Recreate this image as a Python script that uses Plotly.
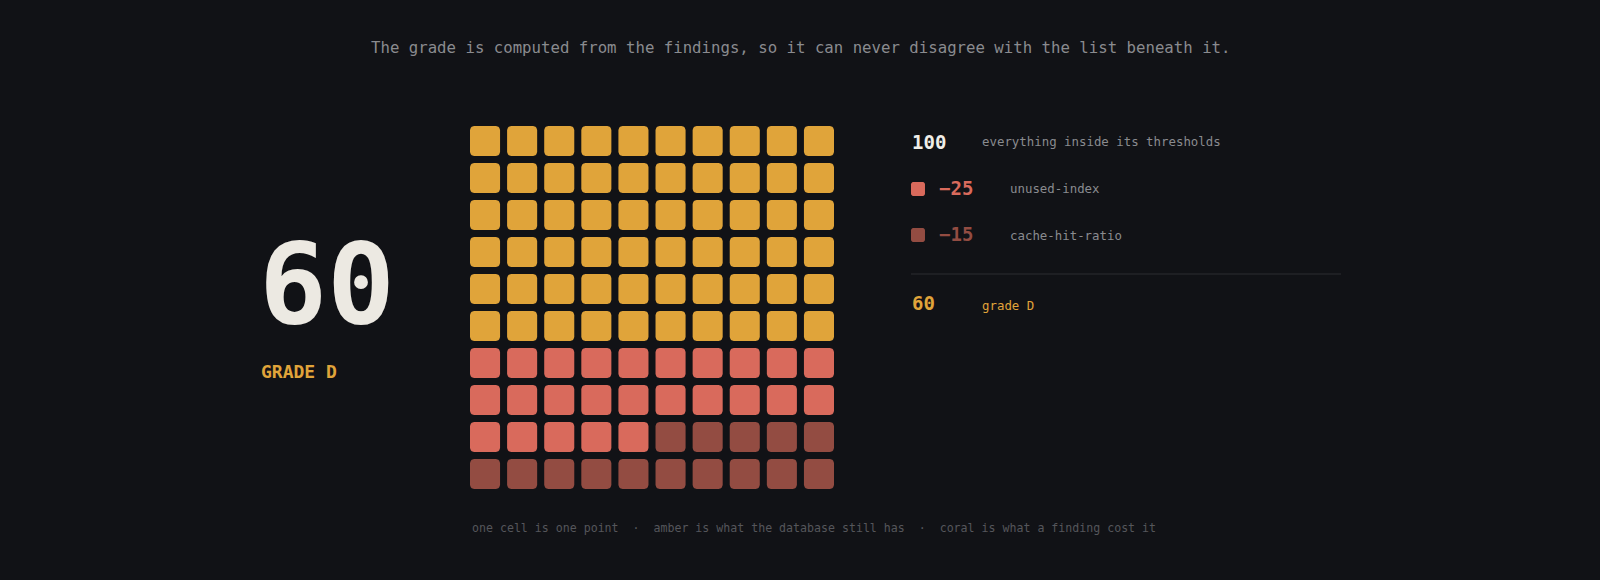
import numpy as np
import plotly.graph_objects as go

# ---- data ----
base_score = 100
base_label = "everything inside its thresholds"
findings = ["unused-index", "cache-hit-ratio"]
penalties = [25, 15]
grade = "D"
score = base_score - sum(penalties)
grid_cols = 10
grid_rows = 10

title_text = "The grade is computed from the findings, so it can never disagree with the list beneath it."
footer_text = "one cell is one point  \u00b7  amber is what the database still has  \u00b7  coral is what a finding cost it"

# ---- style ----
BG = "#111216"
AMBER = "#e0a43a"
CORAL = "#d96a5c"
DARK = "#934c42"
FONT = "DejaVu Sans Mono"
W, H = 1600, 580

# cell categories in reading order
cats = [AMBER] * score
for p, c in zip(penalties, [CORAL, DARK]):
    cats += [c] * p


def rounded_rect(cx, cy, hx, hy, rx, ry, n=6):
    xs, ys = [], []
    corners = [(cx + hx - rx, cy - hy + ry, -90, 0), (cx + hx - rx, cy + hy - ry, 0, 90),
               (cx - hx + rx, cy + hy - ry, 90, 180), (cx - hx + rx, cy - hy + ry, 180, 270)]
    for ccx, ccy, a0, a1 in corners:
        for a in np.linspace(np.radians(a0), np.radians(a1), n):
            xs.append(ccx + rx * np.cos(a))
            ys.append(ccy + ry * np.sin(a))
    xs.append(xs[0]); ys.append(ys[0])
    return xs, ys


fig = go.Figure()
half = 0.405
rad = 0.11
for color in [AMBER, CORAL, DARK]:
    X, Y = [], []
    for idx, c in enumerate(cats):
        if c != color:
            continue
        row, col = divmod(idx, grid_cols)
        xs, ys = rounded_rect(col, row, half, half, rad, rad)
        X += xs + [None]
        Y += ys + [None]
    fig.add_trace(go.Scatter(x=X, y=Y, mode="lines", fill="toself", fillcolor=color,
                             line=dict(width=0, color=color), hoverinfo="skip", showlegend=False))

fig.update_xaxes(domain=[470 / W, 834 / W], range=[-half, grid_cols - 1 + half],
                 visible=False, fixedrange=True)
fig.update_yaxes(domain=[1 - 489 / H, 1 - 126 / H], range=[grid_rows - 1 + half, -half],
                 visible=False, fixedrange=True)


def px(x):
    return x / W


def py(y):
    return 1 - y / H


ann = []


def add_text(x, y, text, size, color, bold=False, xanchor="left"):
    t = f"<b>{text}</b>" if bold else text
    ann.append(dict(x=px(x), y=py(y), xref="paper", yref="paper", text=t, showarrow=False,
                    xanchor=xanchor, yanchor="middle",
                    font=dict(family=FONT, size=size, color=color)))


add_text(800, 48, title_text, 15.7, "#8a8b8f", xanchor="center")
add_text(257, 284, str(score), 113, "#ece9e2", bold=True)
add_text(259, 372, f"GRADE {grade}", 18, AMBER, bold=True)

add_text(910, 142, str(base_score), 19, "#f0eee8", bold=True)
add_text(980, 142, base_label, 12.4, "#8a8b8f")

row_y = [189, 235]
swatch = [CORAL, DARK]
shapes = []
for name, p, yy, c in zip(findings, penalties, row_y, swatch):
    add_text(937, yy - 1, f"\u2212{p}", 19, c, bold=True)
    add_text(1008, yy, name, 12.4, "#8a8b8f")
    sx, sy = rounded_rect(px(918), py(yy), 7 / W, 7 / H, 2.5 / W, 2.5 / H)
    path = "M " + " L ".join(f"{a:.5f},{b:.5f}" for a, b in zip(sx, sy)) + " Z"
    shapes.append(dict(type="path", xref="paper", yref="paper", path=path,
                       fillcolor=c, line=dict(width=0)))

shapes.append(dict(type="line", xref="paper", yref="paper", x0=px(911), x1=px(1341),
                   y0=py(274), y1=py(274), line=dict(color="#2c2d31", width=1)))

add_text(910, 303, str(score), 19, AMBER, bold=True)
add_text(980, 305, f"grade {grade}", 12.4, AMBER)

add_text(470, 528, footer_text, 11.6, "#55565b")

fig.update_layout(width=W, height=H, margin=dict(l=0, r=0, t=0, b=0),
                  paper_bgcolor=BG, plot_bgcolor=BG, annotations=ann, shapes=shapes,
                  showlegend=False)

fig.write_html("out.html", config={"displayModeBar": False},
               post_script="document.body.style.margin='0';document.body.style.background='#111216';")
